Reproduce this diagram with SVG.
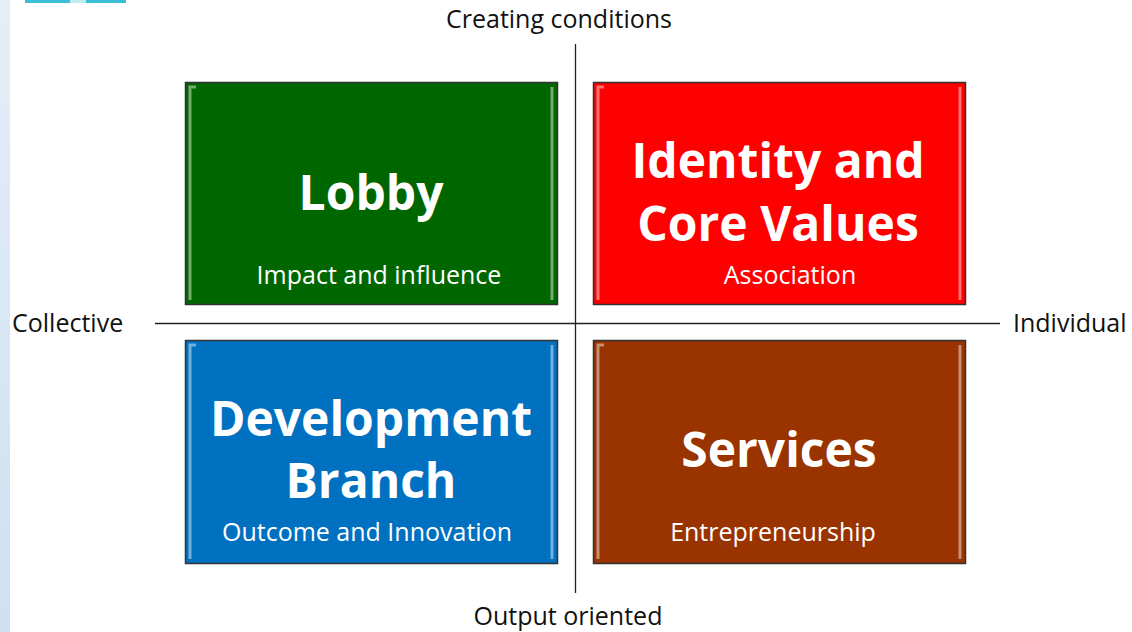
<svg xmlns="http://www.w3.org/2000/svg" width="1132" height="632" viewBox="0 0 1132 632">
<defs>
<linearGradient id="strip" x1="0" y1="0" x2="0" y2="1"><stop offset="0" stop-color="#e4eef8"/><stop offset="1" stop-color="#cfe0f1"/></linearGradient>
<style>
.lbl{font-family:"Open Sans","Liberation Sans",sans-serif;font-size:25px;fill:#111}
.title{font-family:"Open Sans","Liberation Sans",sans-serif;font-weight:bold;font-size:48px;fill:#fff;text-anchor:middle}
.sub{font-family:"Open Sans","Liberation Sans",sans-serif;font-size:25px;fill:#fff;text-anchor:middle}
.box{stroke:#333;stroke-width:1.5}
.hl{fill:none;stroke:#fff;stroke-opacity:0.45;stroke-width:3}
.axis{stroke:#222;stroke-width:1.3}
</style>
</defs>
<rect x="0" y="0" width="1132" height="632" fill="#fff"/>
<rect x="0" y="0" width="10" height="632" fill="url(#strip)"/>
<rect x="25" y="0" width="45" height="3" fill="#3bbfd4"/>
<rect x="70" y="0" width="16" height="3" fill="#bfeaf2"/>
<rect x="86" y="0" width="40" height="3" fill="#3bbfd4"/>
<g id="connectors">
<line class="axis" x1="575.5" y1="44" x2="575.5" y2="593" stroke="#666"/>
<line class="axis" x1="155" y1="323.5" x2="1000" y2="323.5"/>
</g>
<g id="lobby">
<rect class="box" x="185.5" y="82.5" width="372" height="222" fill="#006600"/>
<path class="hl" d="M190 300 V87 H196 M552 87 V300"/>
<text class="title" x="371" y="210">Lobby</text>
<text class="sub" x="379" y="284">Impact and influence</text>
</g>
<g id="identity">
<rect class="box" x="593.5" y="82.5" width="372" height="222" fill="#ff0000"/>
<path class="hl" d="M598 300 V87 H604 M960 87 V300"/>
<text class="title" x="778" y="178">Identity and</text>
<text class="title" x="778" y="241">Core Values</text>
<text class="sub" x="790" y="284">Association</text>
</g>
<g id="development">
<rect class="box" x="185.5" y="340.5" width="372" height="223" fill="#0070c0"/>
<path class="hl" d="M190 559 V345 H196 M552 345 V559"/>
<text class="title" x="371" y="436">Development</text>
<text class="title" x="371" y="498">Branch</text>
<text class="sub" x="367" y="541">Outcome and Innovation</text>
</g>
<g id="services">
<rect class="box" x="593.5" y="340.5" width="372" height="223" fill="#993300"/>
<path class="hl" d="M598 559 V345 H604 M960 345 V559"/>
<text class="title" x="779" y="467">Services</text>
<text class="sub" x="773" y="541">Entrepreneurship</text>
</g>
<text class="lbl" x="559" y="28" text-anchor="middle">Creating conditions</text>
<text class="lbl" x="12" y="332">Collective</text>
<text class="lbl" x="1013" y="332">Individual</text>
<text class="lbl" x="568" y="625" text-anchor="middle">Output oriented</text>
</svg>
